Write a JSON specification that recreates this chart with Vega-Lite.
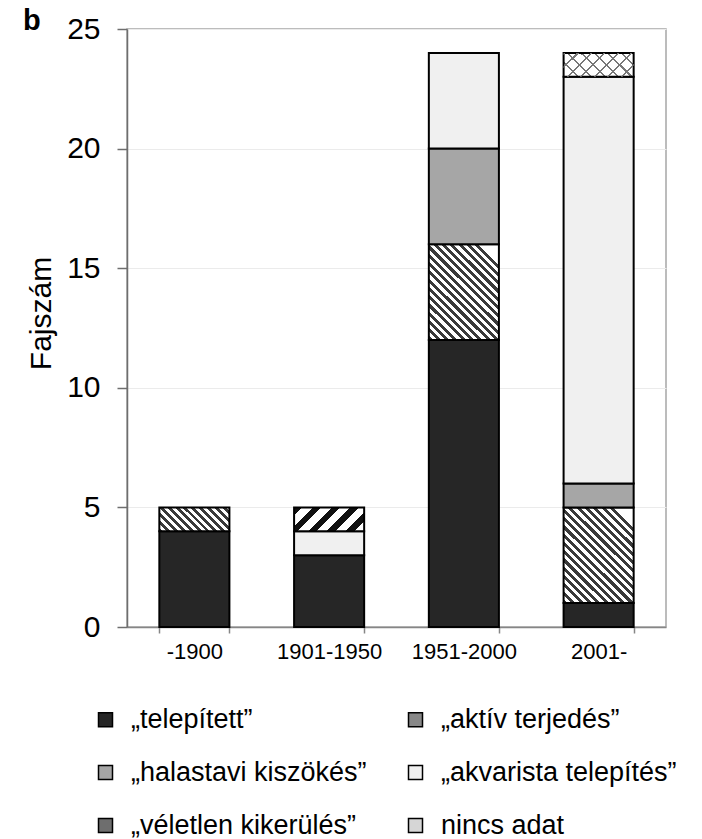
{
  "$schema": "https://vega.github.io/schema/vega-lite/v6.json",
  "width": 539,
  "height": 598,
  "autosize": {"type": "none"},
  "padding": {"left": 127, "top": 29, "right": 36, "bottom": 212},
  "background": "white",
  "config": {
    "font": "Liberation Sans",
    "view": {"stroke": "#a6a6a6", "strokeWidth": 1.5}
  },
  "title": {"text": "b", "anchor": "start", "frame": "group", "fontSize": 29, "fontWeight": "bold", "color": "#000", "dx": -104, "baseline": "alphabetic", "offset": -45},
  "data": {"values": [
    {"period": "-1900", "cat": "„telepített”", "k": "tel", "ord": 1, "n": 4},
    {"period": "-1900", "cat": "„aktív terjedés”", "k": "akt", "ord": 2, "n": 1},
    {"period": "1901-1950", "cat": "„telepített”", "k": "tel", "ord": 1, "n": 3},
    {"period": "1901-1950", "cat": "„akvarista telepítés”", "k": "akv", "ord": 4, "n": 1},
    {"period": "1901-1950", "cat": "„véletlen kikerülés”", "k": "vel", "ord": 5, "n": 1},
    {"period": "1951-2000", "cat": "„telepített”", "k": "tel", "ord": 1, "n": 12},
    {"period": "1951-2000", "cat": "„aktív terjedés”", "k": "akt", "ord": 2, "n": 4},
    {"period": "1951-2000", "cat": "„halastavi kiszökés”", "k": "hal", "ord": 3, "n": 4},
    {"period": "1951-2000", "cat": "„akvarista telepítés”", "k": "akv", "ord": 4, "n": 4},
    {"period": "2001-", "cat": "„telepített”", "k": "tel", "ord": 1, "n": 1},
    {"period": "2001-", "cat": "„aktív terjedés”", "k": "akt", "ord": 2, "n": 4},
    {"period": "2001-", "cat": "„halastavi kiszökés”", "k": "hal", "ord": 3, "n": 1},
    {"period": "2001-", "cat": "„akvarista telepítés”", "k": "akv", "ord": 4, "n": 17},
    {"period": "2001-", "cat": "nincs adat", "k": "nin", "ord": 6, "n": 1}
  ]},
  "encoding": {
    "x": {"field": "period", "type": "nominal", "sort": ["-1900", "1901-1950", "1951-2000", "2001-"],
      "scale": {"paddingInner": 0.48, "paddingOuter": 0.24},
      "axis": {"title": null, "labelAngle": 0, "labelFontSize": 22, "labelColor": "#000", "tickBand": "extent", "tickSize": 6, "tickColor": "#868686", "tickWidth": 1.5, "domainColor": "#868686", "domainWidth": 1.5, "labelPadding": 8, "grid": false}},
    "y": {"field": "n", "type": "quantitative", "stack": "zero",
      "scale": {"domain": [0, 25], "nice": false},
      "axis": {"title": "Fajszám", "values": [0, 5, 10, 15, 20, 25], "labelFontSize": 30, "labelColor": "#000", "titleFontSize": 30, "titleFontWeight": "normal", "titleColor": "#000", "titlePadding": 10, "titleY": 284, "tickSize": 10, "tickWidth": 1.5, "labelPadding": 17, "domainColor": "#6e6e6e", "domainWidth": 1.5, "tickColor": "#6e6e6e", "grid": true, "gridColor": "#ebebeb", "gridWidth": 1}},
    "order": {"field": "ord", "type": "quantitative"}
  },
  "layer": [
    {
      "mark": {"type": "bar", "stroke": "#000", "strokeWidth": 2},
      "encoding": {
        "fill": {
          "field": "cat", "type": "nominal",
          "scale": {"domain": ["„telepített”", "„aktív terjedés”", "„halastavi kiszökés”", "„akvarista telepítés”", "„véletlen kikerülés”", "nincs adat"],
                    "range": ["#262626", "#888888", "#a6a6a6", "#f0f0f0", "#6e6e6e", "#d6d6d6"]},
          "condition": [
            {"test": "datum.k === 'akt' && datum.n === 4", "value": {"gradient": "linear", "x1": 0, "y1": 1, "x2": 0.823, "y2": -0.129, "stops": [
              {"offset": 0, "color": "#3a3a3a"}, {"offset": 0.025, "color": "#3a3a3a"}, {"offset": 0.025, "color": "#ffffff"}, {"offset": 0.05, "color": "#ffffff"},
              {"offset": 0.05, "color": "#3a3a3a"}, {"offset": 0.075, "color": "#3a3a3a"}, {"offset": 0.075, "color": "#ffffff"}, {"offset": 0.1, "color": "#ffffff"},
              {"offset": 0.1, "color": "#3a3a3a"}, {"offset": 0.125, "color": "#3a3a3a"}, {"offset": 0.125, "color": "#ffffff"}, {"offset": 0.15, "color": "#ffffff"},
              {"offset": 0.15, "color": "#3a3a3a"}, {"offset": 0.175, "color": "#3a3a3a"}, {"offset": 0.175, "color": "#ffffff"}, {"offset": 0.2, "color": "#ffffff"},
              {"offset": 0.2, "color": "#3a3a3a"}, {"offset": 0.225, "color": "#3a3a3a"}, {"offset": 0.225, "color": "#ffffff"}, {"offset": 0.25, "color": "#ffffff"},
              {"offset": 0.25, "color": "#3a3a3a"}, {"offset": 0.275, "color": "#3a3a3a"}, {"offset": 0.275, "color": "#ffffff"}, {"offset": 0.3, "color": "#ffffff"},
              {"offset": 0.3, "color": "#3a3a3a"}, {"offset": 0.325, "color": "#3a3a3a"}, {"offset": 0.325, "color": "#ffffff"}, {"offset": 0.35, "color": "#ffffff"},
              {"offset": 0.35, "color": "#3a3a3a"}, {"offset": 0.375, "color": "#3a3a3a"}, {"offset": 0.375, "color": "#ffffff"}, {"offset": 0.4, "color": "#ffffff"},
              {"offset": 0.4, "color": "#3a3a3a"}, {"offset": 0.425, "color": "#3a3a3a"}, {"offset": 0.425, "color": "#ffffff"}, {"offset": 0.45, "color": "#ffffff"},
              {"offset": 0.45, "color": "#3a3a3a"}, {"offset": 0.475, "color": "#3a3a3a"}, {"offset": 0.475, "color": "#ffffff"}, {"offset": 0.5, "color": "#ffffff"},
              {"offset": 0.5, "color": "#3a3a3a"}, {"offset": 0.525, "color": "#3a3a3a"}, {"offset": 0.525, "color": "#ffffff"}, {"offset": 0.55, "color": "#ffffff"},
              {"offset": 0.55, "color": "#3a3a3a"}, {"offset": 0.575, "color": "#3a3a3a"}, {"offset": 0.575, "color": "#ffffff"}, {"offset": 0.6, "color": "#ffffff"},
              {"offset": 0.6, "color": "#3a3a3a"}, {"offset": 0.625, "color": "#3a3a3a"}, {"offset": 0.625, "color": "#ffffff"}, {"offset": 0.65, "color": "#ffffff"},
              {"offset": 0.65, "color": "#3a3a3a"}, {"offset": 0.675, "color": "#3a3a3a"}, {"offset": 0.675, "color": "#ffffff"}, {"offset": 0.7, "color": "#ffffff"},
              {"offset": 0.7, "color": "#3a3a3a"}, {"offset": 0.725, "color": "#3a3a3a"}, {"offset": 0.725, "color": "#ffffff"}, {"offset": 0.75, "color": "#ffffff"},
              {"offset": 0.75, "color": "#3a3a3a"}, {"offset": 0.775, "color": "#3a3a3a"}, {"offset": 0.775, "color": "#ffffff"}, {"offset": 0.8, "color": "#ffffff"},
              {"offset": 0.8, "color": "#3a3a3a"}, {"offset": 0.825, "color": "#3a3a3a"}, {"offset": 0.825, "color": "#ffffff"}, {"offset": 0.85, "color": "#ffffff"},
              {"offset": 0.85, "color": "#3a3a3a"}, {"offset": 0.875, "color": "#3a3a3a"}, {"offset": 0.875, "color": "#ffffff"}, {"offset": 1, "color": "#ffffff"}
            ]}},
            {"test": "datum.k === 'akt' && datum.n === 1", "value": {"gradient": "linear", "x1": 0, "y1": 1, "x2": 1.202, "y2": 0.588, "stops": [
              {"offset": 0, "color": "#3a3a3a"}, {"offset": 0.04167, "color": "#3a3a3a"}, {"offset": 0.04167, "color": "#ffffff"}, {"offset": 0.08333, "color": "#ffffff"},
              {"offset": 0.08333, "color": "#3a3a3a"}, {"offset": 0.125, "color": "#3a3a3a"}, {"offset": 0.125, "color": "#ffffff"}, {"offset": 0.16667, "color": "#ffffff"},
              {"offset": 0.16667, "color": "#3a3a3a"}, {"offset": 0.20833, "color": "#3a3a3a"}, {"offset": 0.20833, "color": "#ffffff"}, {"offset": 0.25, "color": "#ffffff"},
              {"offset": 0.25, "color": "#3a3a3a"}, {"offset": 0.29167, "color": "#3a3a3a"}, {"offset": 0.29167, "color": "#ffffff"}, {"offset": 0.33333, "color": "#ffffff"},
              {"offset": 0.33333, "color": "#3a3a3a"}, {"offset": 0.375, "color": "#3a3a3a"}, {"offset": 0.375, "color": "#ffffff"}, {"offset": 0.41667, "color": "#ffffff"},
              {"offset": 0.41667, "color": "#3a3a3a"}, {"offset": 0.45833, "color": "#3a3a3a"}, {"offset": 0.45833, "color": "#ffffff"}, {"offset": 0.5, "color": "#ffffff"},
              {"offset": 0.5, "color": "#3a3a3a"}, {"offset": 0.54167, "color": "#3a3a3a"}, {"offset": 0.54167, "color": "#ffffff"}, {"offset": 0.58333, "color": "#ffffff"},
              {"offset": 0.58333, "color": "#3a3a3a"}, {"offset": 0.625, "color": "#3a3a3a"}, {"offset": 0.625, "color": "#ffffff"}, {"offset": 0.66667, "color": "#ffffff"},
              {"offset": 0.66667, "color": "#3a3a3a"}, {"offset": 0.70833, "color": "#3a3a3a"}, {"offset": 0.70833, "color": "#ffffff"}, {"offset": 0.75, "color": "#ffffff"},
              {"offset": 0.75, "color": "#3a3a3a"}, {"offset": 0.79167, "color": "#3a3a3a"}, {"offset": 0.79167, "color": "#ffffff"}, {"offset": 0.83333, "color": "#ffffff"},
              {"offset": 0.83333, "color": "#3a3a3a"}, {"offset": 0.875, "color": "#3a3a3a"}, {"offset": 0.875, "color": "#ffffff"}, {"offset": 0.91667, "color": "#ffffff"},
              {"offset": 0.91667, "color": "#3a3a3a"}, {"offset": 0.95833, "color": "#3a3a3a"}, {"offset": 0.95833, "color": "#ffffff"}, {"offset": 1, "color": "#ffffff"}
            ]}},
            {"test": "datum.k === 'vel'", "value": {"gradient": "linear", "x1": 0, "y1": 0, "x2": 1.202, "y2": 0.412, "stops": [
              {"offset": 0, "color": "#111111"}, {"offset": 0.09, "color": "#111111"}, {"offset": 0.09, "color": "#ffffff"}, {"offset": 0.2, "color": "#ffffff"},
              {"offset": 0.2, "color": "#111111"}, {"offset": 0.29, "color": "#111111"}, {"offset": 0.29, "color": "#ffffff"}, {"offset": 0.4, "color": "#ffffff"},
              {"offset": 0.4, "color": "#111111"}, {"offset": 0.49, "color": "#111111"}, {"offset": 0.49, "color": "#ffffff"}, {"offset": 0.6, "color": "#ffffff"},
              {"offset": 0.6, "color": "#111111"}, {"offset": 0.69, "color": "#111111"}, {"offset": 0.69, "color": "#ffffff"}, {"offset": 0.8, "color": "#ffffff"},
              {"offset": 0.8, "color": "#111111"}, {"offset": 0.89, "color": "#111111"}, {"offset": 0.89, "color": "#ffffff"}, {"offset": 1, "color": "#ffffff"}
            ]}},
            {"test": "datum.k === 'nin'", "value": {"gradient": "linear", "x1": 0, "y1": 1, "x2": 1.202, "y2": 0.588, "stops": [
              {"offset": 0, "color": "#777777"}, {"offset": 0.022, "color": "#777777"}, {"offset": 0.022, "color": "#ffffff"}, {"offset": 0.1429, "color": "#ffffff"},
              {"offset": 0.1429, "color": "#777777"}, {"offset": 0.1649, "color": "#777777"}, {"offset": 0.1649, "color": "#ffffff"}, {"offset": 0.2857, "color": "#ffffff"},
              {"offset": 0.2857, "color": "#777777"}, {"offset": 0.3077, "color": "#777777"}, {"offset": 0.3077, "color": "#ffffff"}, {"offset": 0.4286, "color": "#ffffff"},
              {"offset": 0.4286, "color": "#777777"}, {"offset": 0.4506, "color": "#777777"}, {"offset": 0.4506, "color": "#ffffff"}, {"offset": 0.5714, "color": "#ffffff"},
              {"offset": 0.5714, "color": "#777777"}, {"offset": 0.5934, "color": "#777777"}, {"offset": 0.5934, "color": "#ffffff"}, {"offset": 0.7143, "color": "#ffffff"},
              {"offset": 0.7143, "color": "#777777"}, {"offset": 0.7363, "color": "#777777"}, {"offset": 0.7363, "color": "#ffffff"}, {"offset": 0.8571, "color": "#ffffff"},
              {"offset": 0.8571, "color": "#777777"}, {"offset": 0.8791, "color": "#777777"}, {"offset": 0.8791, "color": "#ffffff"}, {"offset": 1, "color": "#ffffff"}
            ]}}
          ],
          "legend": {
            "orient": "none", "legendX": -35, "legendY": 677, "columns": 2, "direction": "horizontal", "title": null,
            "labelFontSize": 27, "labelColor": "#000", "labelLimit": 400, "labelOffset": 12,
            "symbolType": "square", "symbolSize": 196, "symbolStrokeColor": "#000", "symbolStrokeWidth": 1.5,
            "columnPadding": 35, "rowPadding": 25, "padding": 0,
            "encode": {"symbols": {"update": {"stroke": {"value": "#000"}}}}
          }
        }
      }
    },
    {
      "mark": {"type": "bar", "strokeWidth": 0},
      "encoding": {
        "detail": {"field": "cat", "type": "nominal"},
        "fill": {
          "condition": {"test": "datum.k === 'nin'", "value": {"gradient": "linear", "x1": 0, "y1": 0, "x2": 1.202, "y2": 0.412, "stops": [
            {"offset": 0, "color": "#777777"}, {"offset": 0.022, "color": "#777777"}, {"offset": 0.022, "color": "rgba(255,255,255,0)"}, {"offset": 0.1429, "color": "rgba(255,255,255,0)"},
            {"offset": 0.1429, "color": "#777777"}, {"offset": 0.1649, "color": "#777777"}, {"offset": 0.1649, "color": "rgba(255,255,255,0)"}, {"offset": 0.2857, "color": "rgba(255,255,255,0)"},
            {"offset": 0.2857, "color": "#777777"}, {"offset": 0.3077, "color": "#777777"}, {"offset": 0.3077, "color": "rgba(255,255,255,0)"}, {"offset": 0.4286, "color": "rgba(255,255,255,0)"},
            {"offset": 0.4286, "color": "#777777"}, {"offset": 0.4506, "color": "#777777"}, {"offset": 0.4506, "color": "rgba(255,255,255,0)"}, {"offset": 0.5714, "color": "rgba(255,255,255,0)"},
            {"offset": 0.5714, "color": "#777777"}, {"offset": 0.5934, "color": "#777777"}, {"offset": 0.5934, "color": "rgba(255,255,255,0)"}, {"offset": 0.7143, "color": "rgba(255,255,255,0)"},
            {"offset": 0.7143, "color": "#777777"}, {"offset": 0.7363, "color": "#777777"}, {"offset": 0.7363, "color": "rgba(255,255,255,0)"}, {"offset": 0.8571, "color": "rgba(255,255,255,0)"},
            {"offset": 0.8571, "color": "#777777"}, {"offset": 0.8791, "color": "#777777"}, {"offset": 0.8791, "color": "rgba(255,255,255,0)"}, {"offset": 1, "color": "rgba(255,255,255,0)"}
          ]}},
          "value": "transparent"
        }
      }
    }
  ]
}
